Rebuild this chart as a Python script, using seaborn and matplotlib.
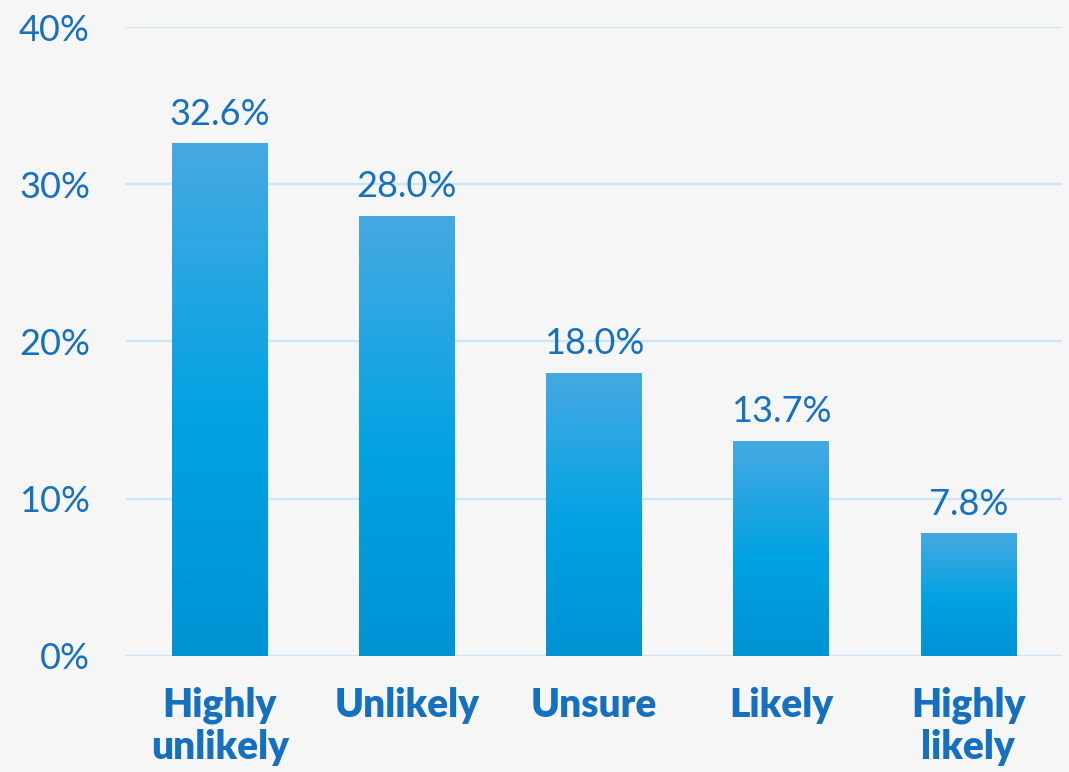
import numpy as np
import pandas as pd
import matplotlib
matplotlib.use("Agg")
import matplotlib.pyplot as plt
from matplotlib.colors import LinearSegmentedColormap
import seaborn as sns

categories = ["Highly\nunlikely", "Unlikely", "Unsure", "Likely", "Highly\nlikely"]
shares = [32.6, 28.0, 18.0, 13.7, 7.8]
y_ticks = [0, 10, 20, 30, 40]
y_tick_labels = ["0%", "10%", "20%", "30%", "40%"]

TEXT = "#1670c0"
GRID = "#cbe6f9"
BG = "#f6f6f7"

sns.set_theme(style="white")
plt.rcParams["font.family"] = ["Lato", "DejaVu Sans"]

df = pd.DataFrame({"category": categories, "share": shares})

fig = plt.figure(figsize=(10.69, 7.72), dpi=100, facecolor=BG)
ax = fig.add_axes([0.1179, 0.1503, 0.8755, 0.8147])
ax.set_facecolor("none")

sns.barplot(data=df, x="category", y="share", color="#00a0e0", width=0.51,
            ax=ax, zorder=3)

ax.set_ylim(0, 40)
ax.set_xlim(-0.5, len(categories) - 0.5)
ax.set_yticks(y_ticks)
ax.set_yticklabels(y_tick_labels)
ax.yaxis.grid(True, color=GRID, linewidth=1.6, zorder=0)
ax.set_axisbelow(True)
for s in ax.spines.values():
    s.set_visible(False)
ax.set_xlabel("")
ax.set_ylabel("")
ax.tick_params(axis="y", length=0, pad=26, labelsize=26, labelcolor=TEXT)
ax.tick_params(axis="x", length=0, pad=22, labelsize=28, labelcolor=TEXT)
for lab in ax.get_xticklabels():
    lab.set_fontweight("heavy")
    lab.set_linespacing(1.15)

# vertical gradient fill for each bar
grad = LinearSegmentedColormap.from_list(
    "bar", [(0.0, "#0093d4"), (0.45, "#00a2e2"), (1.0, "#46a9e3")])
gimg = np.linspace(0, 1, 256).reshape(-1, 1)
for patch in ax.patches:
    x0, y0 = patch.get_x(), patch.get_y()
    w, h = patch.get_width(), patch.get_height()
    patch.set_facecolor("none")
    patch.set_edgecolor("none")
    im = ax.imshow(gimg, cmap=grad, origin="lower", aspect="auto",
                   extent=[x0, x0 + w, y0, y0 + h], zorder=3)
    im.set_clip_path(patch)

ax.set_xlim(-0.5, len(categories) - 0.5)
ax.set_ylim(0, 40)

for cont in ax.containers:
    ax.bar_label(cont, labels=[f"{v:.1f}%" for v in shares], padding=9,
                 fontsize=26, color=TEXT)

fig.savefig("out.png", dpi=100, facecolor=BG)
